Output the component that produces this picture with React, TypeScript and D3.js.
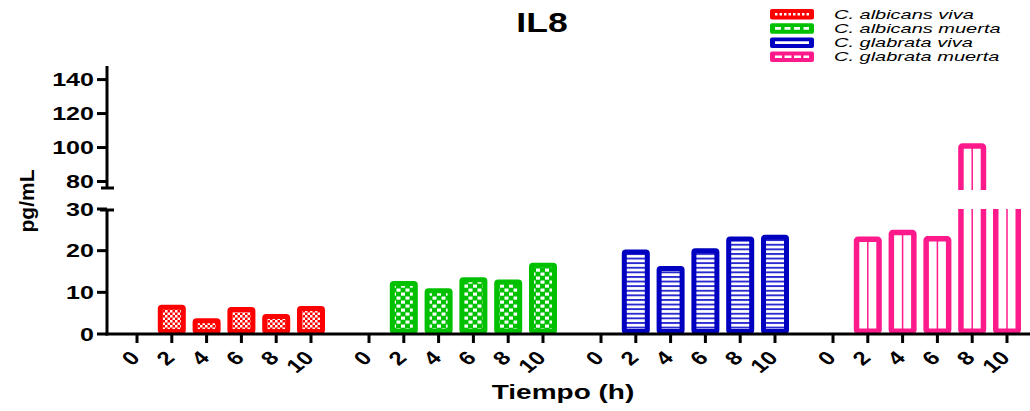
import React from "react";
import * as d3 from "d3";

// Sampling times (h) and the four conditions
const HOURS = ["0", "2", "4", "6", "8", "10"];
const SERIES = [
  "C. albicans viva",
  "C. albicans muerta",
  "C. glabrata viva",
  "C. glabrata muerta",
];
const COLORS = ["#ff0000", "#00c000", "#0000c0", "#ff1a8c"];

// IL8 concentration (pg/mL) per time point
const albicansViva = [0, 7.0, 3.8, 6.5, 4.8, 6.7];
const albicansMuerta = [0, 12.7, 11.0, 13.6, 13.1, 17.1];
const glabrataViva = [0, 20.3, 16.3, 20.6, 23.4, 23.8];
const glabrataMuerta = [0, 23.4, 25.0, 23.5, 102.5, 50];

const lowerTicks = [0, 10, 20, 30];
const upperTicks = [80, 100, 120, 140];

const VALUES = [albicansViva, albicansMuerta, glabrataViva, glabrataMuerta];

const W = 1030;
const H = 411;
const FONT = "'Liberation Sans', Arial, Helvetica, sans-serif";
const SX = 1.32; // horizontal widening of the lettering

// Broken y axis: lower segment 0-30, upper segment 75-148
const yLow = d3.scaleLinear().domain([0, 30]).range([334, 209]);
const yUp = d3.scaleLinear().domain([75, 148]).range([190, 66]);
const AXIS_X = 107;
const BASE = yLow(0);

// Groups are separated by an extra gap of 2/3 of a slot
const GROUP_STEP = 6 + 2 / 3;
const x = d3
  .scaleLinear()
  .domain([0, 3 * GROUP_STEP + 5])
  .range([137, 1007]);
const slotX = (g: number, i: number) => x(g * GROUP_STEP + i);

const BAR_W = 28;
const SW = 5;

function Bar({ g, i, v }: { g: number; i: number; v: number }) {
  if (!v) return null;
  const cx = slotX(g, i);
  const fill = g === 3 ? "#ffffff" : `url(#pat${g})`;
  const color = COLORS[g];
  const sw = g === 3 ? 5.5 : SW;
  const left = cx - BAR_W / 2 + sw / 2;
  const w = BAR_W - sw;
  const lowTop = yLow(Math.min(v, 40)) + sw / 2;
  const pieces = [
    <g key="lo" clipPath="url(#clipLow)">
      <rect x={left} y={lowTop} width={w} height={BASE - sw / 2 - lowTop} fill={fill} stroke={color} strokeWidth={sw} rx={1.5} />
      {g === 3 && <line x1={cx} x2={cx} y1={lowTop} y2={BASE} stroke={color} strokeWidth={1.5} />}
    </g>,
  ];
  if (v > yUp.domain()[0]) {
    const upTop = yUp(v) + sw / 2;
    pieces.push(
      <g key="up" clipPath="url(#clipUp)">
        <rect x={left} y={upTop} width={w} height={220 - upTop} fill={fill} stroke={color} strokeWidth={sw} rx={1.5} />
        {g === 3 && <line x1={cx} x2={cx} y1={upTop} y2={220} stroke={color} strokeWidth={1.5} />}
      </g>
    );
  }
  return <g>{pieces}</g>;
}

function Legend() {
  const dashes = ["2.5,2", "6,3.5", "", "7,2.5"];
  return (
    <g>
      {SERIES.map((s, k) => {
        const cy = 14 + k * 14.2;
        return (
          <g key={s}>
            <rect x={770} y={cy - 5} width={44} height={10.5} rx={2} fill={COLORS[k]} />
            <line x1={775} x2={809} y1={cy + 0.2} y2={cy + 0.2} stroke="#fff" strokeWidth={2.6} strokeDasharray={dashes[k] || undefined} />
            <text
              transform={`translate(834,${cy + 4.8}) scale(1.48,1)`}
              fontFamily={FONT}
              fontStyle="italic"
              fontSize={13.5}
              fill="#000"
            >
              {s}
            </text>
          </g>
        );
      })}
    </g>
  );
}

export default function App() {
  return (
    <svg
      width={W}
      height={H}
      viewBox={`0 0 ${W} ${H}`}
      style={{ position: "absolute", left: 0, top: 0, background: "#fff" }}
    >
      <defs>
        <pattern id="pat0" patternUnits="userSpaceOnUse" width={5} height={5}>
          <rect width={5} height={5} fill="#ff0000" />
          <rect x={0} y={0} width={2.5} height={2.5} fill="#fff" />
          <rect x={2.5} y={2.5} width={2.5} height={2.5} fill="#fff" />
        </pattern>
        <pattern id="pat1" patternUnits="userSpaceOnUse" width={9} height={8}>
          <rect width={9} height={8} fill="#00c000" />
          <rect x={0.5} y={0.5} width={4} height={3.2} fill="#fff" />
          <rect x={5} y={4.5} width={4} height={3.2} fill="#fff" />
        </pattern>
        <pattern id="pat2" patternUnits="userSpaceOnUse" width={6} height={4.6}>
          <rect width={6} height={4.6} fill="#fff" />
          <rect y={0} width={6} height={1.9} fill="#2a2ad0" />
        </pattern>
        <clipPath id="clipLow">
          <rect x={0} y={yLow(30)} width={W} height={BASE - yLow(30) + 2} />
        </clipPath>
        <clipPath id="clipUp">
          <rect x={0} y={0} width={W} height={yUp(75)} />
        </clipPath>
      </defs>

      {/* Title */}
      <text
        transform={`translate(542,32) scale(1.27,1)`}
        textAnchor="middle"
        fontFamily={FONT}
        fontWeight="bold"
        fontSize={28}
      >
        IL8
      </text>

      <Legend />

      {/* Bars */}
      {VALUES.map((vals, g) =>
        vals.map((v, i) => <Bar key={`${g}-${i}`} g={g} i={i} v={v} />)
      )}

      {/* Axes */}
      <g stroke="#000" strokeWidth={3} fill="none">
        <line x1={AXIS_X} x2={AXIS_X} y1={yLow(30) + 1} y2={BASE + 1.5} />
        <line x1={100} x2={114} y1={yLow(30) + 1} y2={yLow(30) + 1} />
        {lowerTicks.map((t) => (
          <line key={t} x1={97} x2={AXIS_X} y1={yLow(t)} y2={yLow(t)} />
        ))}
        <line x1={AXIS_X} x2={AXIS_X} y1={yUp(148)} y2={yUp(75) - 2} />
        <line x1={101} x2={114} y1={yUp(75) - 2} y2={yUp(75) - 2} />
        {upperTicks.map((t) => (
          <line key={t} x1={97} x2={AXIS_X} y1={yUp(t)} y2={yUp(t)} />
        ))}
        <line x1={AXIS_X - 1.5} x2={W} y1={BASE} y2={BASE} />
        {VALUES.map((_, g) =>
          HOURS.map((h, i) => (
            <line key={`${g}-${h}`} x1={slotX(g, i)} x2={slotX(g, i)} y1={BASE} y2={BASE + 9} />
          ))
        )}
      </g>

      {/* Y tick labels */}
      <g fontFamily={FONT} fontWeight="bold" fontSize={19} fill="#000">
        {lowerTicks.map((t) => (
          <text key={t} transform={`translate(94,${yLow(t) + 6.8}) scale(${SX},1)`} textAnchor="end">
            {t}
          </text>
        ))}
        {upperTicks.map((t) => (
          <text key={t} transform={`translate(94,${yUp(t) + 6.8}) scale(${SX},1)`} textAnchor="end">
            {t}
          </text>
        ))}
      </g>

      {/* X tick labels */}
      <g fontFamily={FONT} fontWeight="bold" fontSize={19} fill="#000">
        {VALUES.map((_, g) =>
          HOURS.map((h, i) => (
            <text
              key={`${g}-${h}`}
              transform={`translate(${slotX(g, i) + 4},359) scale(1.25,1) rotate(-45)`}
              textAnchor="end"
            >
              {h}
            </text>
          ))
        )}
      </g>

      {/* Axis titles */}
      <text
        transform={`translate(563,399) scale(1.4,1)`}
        textAnchor="middle"
        fontFamily={FONT}
        fontWeight="bold"
        fontSize={20}
      >
        Tiempo (h)
      </text>
      <text
        transform={`translate(34,201) rotate(-90)`}
        textAnchor="middle"
        fontFamily={FONT}
        fontWeight="bold"
        fontSize={21}
      >
        pg/mL
      </text>
    </svg>
  );
}
